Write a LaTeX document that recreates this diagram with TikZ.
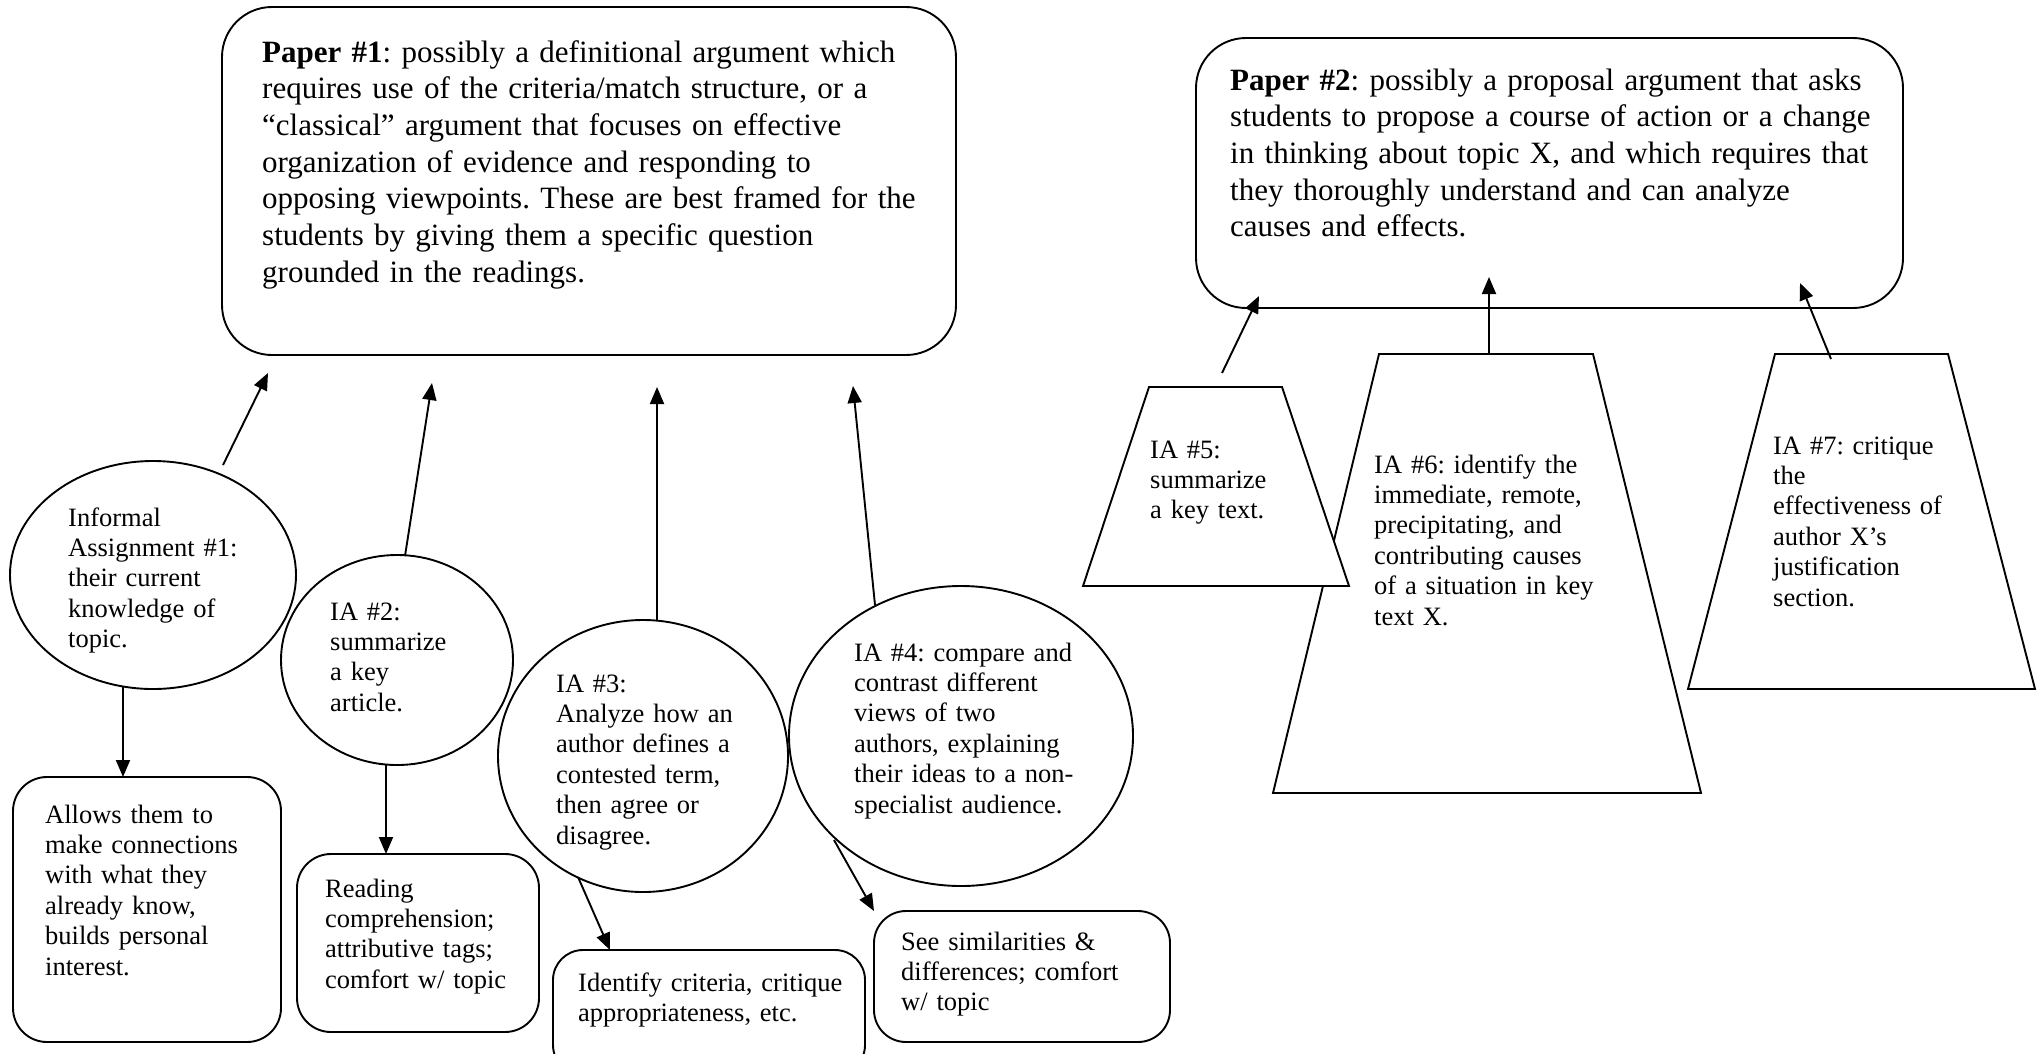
\documentclass[tikz,border=0pt]{standalone}
\usepackage{fontspec}
\setmainfont{Liberation Serif}
\usetikzlibrary{shapes.geometric,arrows.meta}
\frenchspacing
\tikzset{
  shp/.style={draw, line width=1.9pt},
  paper/.style={shp, rectangle, rounded corners=50pt, inner sep=0pt},
  oval/.style={shp, ellipse, inner sep=0pt},
  rbox/.style={shp, rectangle, rounded corners=34pt, inner sep=0pt},
  trap/.style={shp, fill=white, line join=miter},
  big/.style={anchor=base west, align=left, text width=700pt, inner sep=0pt, font=\fontsize{31}{36.7}\selectfont},
  small/.style={anchor=base west, align=left, text width=330pt, inner sep=0pt, font=\fontsize{26.5}{30.4}\selectfont},
  arr/.style={line width=1.9pt, -{Triangle[length=17pt,width=14pt]}},
}
\begin{document}
\begin{tikzpicture}[x=1pt,y=-1pt]
\useasboundingbox (0,0) rectangle (2042,1053);
\fill[white] (0,0) rectangle (2042,1053);

% ---- Paper boxes
\node[paper, minimum width=734pt, minimum height=348pt] (P1) at (589,181) {};
\node[paper, minimum width=707pt, minimum height=270pt] (P2) at (1549.5,173) {};
\node[big] (tP1) at (262,62) {\textbf{Paper \#1}: possibly a definitional argument which\\
requires use of the criteria/match structure, or a\\
“classical” argument that focuses on effective\\
organization of evidence and responding to\\
opposing viewpoints. These are best framed for the\\
students by giving them a specific question\\
grounded in the readings.};
\node[big] (tP2) at (1230,90) {\textbf{Paper \#2}: possibly a proposal argument that asks\\
students to propose a course of action or a change\\
in thinking about topic X, and which requires that\\
they thoroughly understand and can analyze\\
causes and effects.};

% ---- Ovals
\node[oval, minimum width=286pt, minimum height=228pt] (o1) at (153,575) {};
\node[oval, minimum width=232pt, minimum height=210pt] (o2) at (397,660) {};
\node[oval, minimum width=290pt, minimum height=272pt] (o3) at (643,756) {};
\node[oval, minimum width=344pt, minimum height=300pt] (o4) at (961,736) {};
\node[small] (to1) at (68,526) {Informal\\Assignment \#1:\\their current\\knowledge of\\topic.};
\node[small] (to2) at (330,620) {IA \#2:\\summarize\\a key\\article.};
\node[small] (to3) at (556,692) {IA \#3:\\Analyze how an\\author defines a\\contested term,\\then agree or\\disagree.};
\node[small] (to4) at (854,661) {IA \#4: compare and\\contrast different\\views of two\\authors, explaining\\their ideas to a non-\\specialist audience.};

% ---- Outcome boxes
\node[rbox, minimum width=268pt, minimum height=265pt] (b1) at (147,909.5) {};
\node[rbox, minimum width=242pt, minimum height=178pt] (b2) at (418,943) {};
\node[rbox, rounded corners=30pt, minimum width=312pt, minimum height=125pt] (b3) at (709,1012.5) {};
\node[rbox, rounded corners=32pt, minimum width=296pt, minimum height=131pt] (b4) at (1022,976.5) {};
\node[small] (tb1) at (45,823) {Allows them to\\make connections\\with what they\\already know,\\builds personal\\interest.};
\node[small] (tb2) at (325,897) {Reading\\comprehension;\\attributive tags;\\comfort w/ topic};
\node[small] (tb3) at (578,991) {Identify criteria, critique\\appropriateness, etc.};
\node[small] (tb4) at (901,950) {See similarities \&\\differences; comfort\\w/ topic};

% ---- Trapezoids
\draw[trap] (1379,354) coordinate (t6a) -- (1593,354) -- (1701,793) -- (1273,793) -- cycle;
\draw[trap] (1149,387) coordinate (t5a) -- (1282,387) -- (1349,586) -- (1083,586) -- cycle;
\draw[trap] (1775,354) coordinate (t7a) -- (1948,354) -- (2035,689) -- (1688,689) -- cycle;
\node[small] (tt5) at (1150,458) {IA \#5:\\summarize\\a key text.};
\node[small] (tt6) at (1374,473) {IA \#6: identify the\\immediate, remote,\\precipitating, and\\contributing causes\\of a situation in key\\text X.};
\node[small] (tt7) at (1773,454) {IA \#7: critique\\the\\effectiveness of\\author X’s\\justification\\section.};

% ---- Connector end points
\coordinate (a1s) at (223,465);  \coordinate (a1e) at (268,373);
\coordinate (a2s) at (405,556);  \coordinate (a2e) at (432,383);
\coordinate (a3s) at (657,620);  \coordinate (a3e) at (657,387);
\coordinate (a4s) at (875,605);  \coordinate (a4e) at (853,386);
\coordinate (d1s) at (123,687);  \coordinate (d1e) at (123,777);
\coordinate (d2s) at (386,765);  \coordinate (d2e) at (386,854);
\coordinate (d3s) at (578,877);  \coordinate (d3e) at (610,950);
\coordinate (d4s) at (834,840);  \coordinate (d4e) at (874,911);
\coordinate (c5s) at (1222,373); \coordinate (c5e) at (1259,296);
\coordinate (c6s) at (1489,354); \coordinate (c6e) at (1489,277);
\coordinate (c7s) at (1831,359); \coordinate (c7e) at (1800,283);

\draw[arr] (a1s) -- (a1e);
\draw[arr] (a2s) -- (a2e);
\draw[arr] (a3s) -- (a3e);
\draw[arr] (a4s) -- (a4e);
\draw[arr] (d1s) -- (d1e);
\draw[arr] (d2s) -- (d2e);
\draw[arr] (d3s) -- (d3e);
\draw[arr] (d4s) -- (d4e);
\draw[arr] (c5s) -- (c5e);
\draw[arr] (c6s) -- (c6e);
\draw[arr] (c7s) -- (c7e);
\end{tikzpicture}
\end{document}
